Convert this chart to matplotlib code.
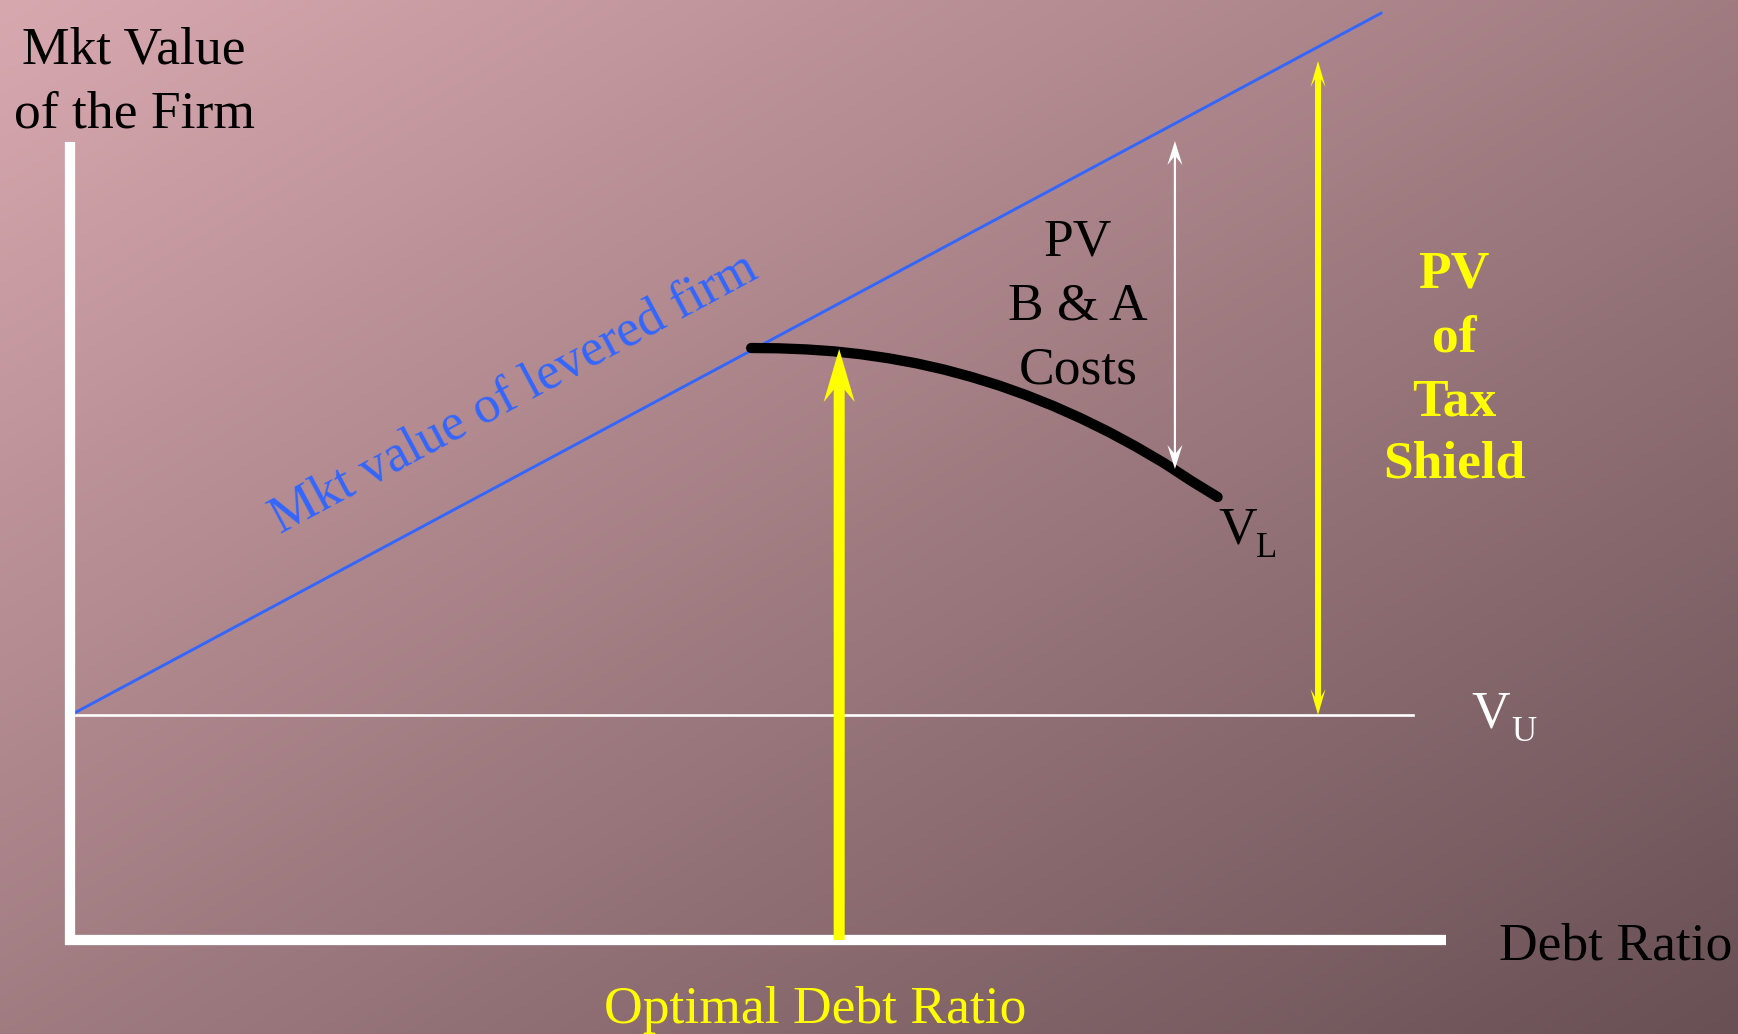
import numpy as np
import matplotlib
matplotlib.use("Agg")
import matplotlib.pyplot as plt
from matplotlib.patches import FancyArrow

# ---- values (debt ratio in % of the axis length, firm value in arbitrary units) ----
debt_axis_max = 100.0
value_axis_max = 79.8

unlevered_value = 22.5          # V_U
unlevered_line_end = 97.6

levered_line_debt = [0.05, 95.3]      # market value of levered firm (no costs)
levered_line_value = [22.5, 92.7]

# V_L : value with bankruptcy & agency costs
vl_debt = [49.5, 51.5, 53.5, 55.5, 57.5, 59.5, 61.5, 63.5, 65.5, 67.5,
           69.5, 71.5, 73.5, 75.5, 77.5, 79.5, 81.5, 83.4]
vl_value = [59.2, 59.17, 59.06, 58.87, 58.57, 58.17, 57.67, 57.05, 56.31,
            55.46, 54.48, 53.38, 52.15, 50.8, 49.31, 47.7, 45.9, 44.3]

optimal_debt = 55.9
optimal_value = 59.1

costs_debt = 80.3
costs_top, costs_bottom = 79.9, 47.1

shield_debt = 90.7
shield_top = 87.9

# ---- figure ----
W, H = 1738, 1034
fig = plt.figure(figsize=(W / 100, H / 100), dpi=100)
ax = fig.add_axes([0, 0, 1, 1])
x0, x1 = -70 / 13.76, (W - 70) / 13.76
y0, y1 = -(H - 940) / 10.0, 940 / 10.0
ax.set_xlim(x0, x1)
ax.set_ylim(y0, y1)
ax.axis("off")

# diagonal background gradient
gx = np.linspace(0, 1, 348)
gy = np.linspace(0, 1, 207)
GX, GY = np.meshgrid(gx, gy)
t = (GX + GY) / 2.0
c0 = np.array([216, 168, 175]) / 255.0
c1 = np.array([104, 80, 84]) / 255.0
img = c0[None, None, :] * (1 - t[..., None]) + c1[None, None, :] * t[..., None]
ax.imshow(img, extent=[x0, x1, y0, y1], origin="upper", aspect="auto",
          interpolation="bilinear", zorder=0)

serif = "Liberation Serif"
FS = 38.5

# axes
ax.plot([0, 0], [-0.5, value_axis_max], color="white", lw=7.4,
        solid_capstyle="butt", zorder=3)
ax.plot([-0.36, debt_axis_max], [0, 0], color="white", lw=7.4,
        solid_capstyle="butt", zorder=3)

# V_U line and levered-firm line
ax.plot([0.45, unlevered_line_end], [unlevered_value, unlevered_value],
        color="white", lw=1.9, zorder=2)
ax.plot(levered_line_debt, levered_line_value, color="#3366FF", lw=2.1,
        solid_capstyle="round", zorder=2)

# V_L curve
ax.plot(vl_debt, vl_value, color="black", lw=7.4, solid_capstyle="round",
        solid_joinstyle="round", zorder=4)


def varrow(x, ya, yb, shaft_px, head_w_px, head_len_px, overhang, color, z):
    ax.add_patch(FancyArrow(x, ya, 0, yb - ya, width=shaft_px / 13.76,
                            head_width=head_w_px / 13.76,
                            head_length=head_len_px / 10.0,
                            overhang=overhang, length_includes_head=True,
                            color=color, lw=0, zorder=z))


# optimal debt ratio arrow
varrow(optimal_debt, 0, optimal_value, 11, 31, 53, 0.23, "#FFFF00", 5)

# PV of bankruptcy & agency costs (double-headed)
mid_c = (costs_top + costs_bottom) / 2
varrow(costs_debt, mid_c, costs_top, 2.2, 15, 24, 0.33, "white", 5)
varrow(costs_debt, mid_c, costs_bottom, 2.2, 15, 24, 0.33, "white", 5)

# PV of tax shield (double-headed)
mid_s = (shield_top + unlevered_value) / 2
varrow(shield_debt, mid_s, shield_top, 6, 15, 26, 0.3, "#FFFF00", 5)
varrow(shield_debt, mid_s, unlevered_value, 6, 15, 26, 0.3, "#FFFF00", 5)


def ftext(px, py, s, **kw):
    kw.setdefault("family", serif)
    kw.setdefault("fontsize", FS)
    kw.setdefault("va", "baseline")
    fig.text(px / W, 1 - py / H, s, **kw)


ftext(134, 63, "Mkt Value", ha="center", color="black")
ftext(134, 127, "of the Firm", ha="center", color="black")
ftext(1499, 959, "Debt Ratio", ha="left", color="black")
ftext(815, 1023, "Optimal Debt Ratio", ha="center", color="#FFFF00")

for s, b in zip(["PV", "B & A", "Costs"], [255, 319, 383]):
    ftext(1078, b, s, ha="center", color="black")

for s, b in zip(["PV", "of", "Tax", "Shield"], [287, 351, 415, 478]):
    ftext(1454, b, s, ha="center", color="#FFFF00", weight="bold")

ftext(1218, 543, "V", ha="left", color="black")
ftext(1256, 557, "L", ha="left", color="black", fontsize=25)
ftext(1471, 727, "V", ha="left", color="white")
ftext(1511, 741, "U", ha="left", color="white", fontsize=25)

fig.text(514 / W, 1 - 394 / H, "Mkt value of levered firm", family=serif,
         fontsize=38, color="#3366FF", rotation=28.2, rotation_mode="anchor",
         ha="center", va="center")

fig.savefig("out.png", dpi=100)
